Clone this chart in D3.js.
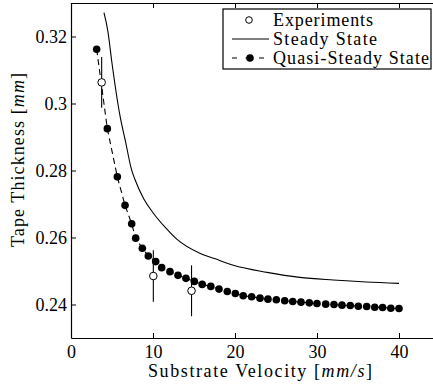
<!DOCTYPE html>
<html>
<head>
<meta charset="utf-8">
<script src="https://cdn.jsdelivr.net/npm/d3@7"></script>
<style>
  body { margin: 0; background: #fff; }
  svg { display: block; }
  text { font-family: "Liberation Serif", "Times New Roman", serif; fill: #000; }
</style>
</head>
<body>
<div id="chart"></div>
<script>
// Experiments (open circles with error bars)
var expX = [3.74, 10.04, 14.7];
var expY = [0.3063, 0.2485, 0.2441];
var expErr = [0.0076, 0.0077, 0.0076];

// Steady state (solid line)
var steadyX = [4.02, 4.5, 5.0, 6.0, 6.6, 7.4, 7.8, 8.9, 10.0, 11.5, 12.9, 15.7, 17.5, 19.8, 23.9, 27.9, 32.0, 36.0, 40.0];
var steadyY = [0.3271, 0.3215, 0.3120, 0.2960, 0.2892, 0.2801, 0.2773, 0.2714, 0.2674, 0.2630, 0.2595, 0.2553, 0.2537, 0.2517, 0.2496, 0.2481, 0.2473, 0.2467, 0.2463];

// Quasi-steady state (dashed line with filled dots)
var quasiX = [3.13, 4.43, 5.65, 6.59, 7.4, 7.89, 8.7, 9.43, 10.33, 11.06, 12.07, 13.05, 14.02, 15.04, 16.0, 17.05,
    18.05, 19.06, 20.04, 21.0, 22.03, 23.05, 24.02, 25.04, 26.06, 27.04, 28.05, 29.06, 30.0, 31.06, 32.07, 33.05,
    34.06, 35.04, 36.06, 37.04, 38.0, 39.0, 40.0];
var quasiY = [0.3162, 0.2925, 0.2781, 0.2696, 0.2641, 0.2598, 0.2568, 0.2545, 0.2528, 0.2510, 0.2498, 0.2487, 0.2478, 0.2469, 0.2460, 0.2454,
    0.2446, 0.2439, 0.2433, 0.2426, 0.2423, 0.2419, 0.2416, 0.2414, 0.2411, 0.2409, 0.2407, 0.2405, 0.2403, 0.2401, 0.2400, 0.2398,
    0.2397, 0.2395, 0.2394, 0.2392, 0.2391, 0.2389, 0.2388];

var xTicks = [0, 10, 20, 30, 40];
var yTicks = [0.24, 0.26, 0.28, 0.30, 0.32];
var legendLabels = ['Experiments', 'Steady State', 'Quasi-Steady State'];
var legendWidths = [100, 104, 156];

var margin = { top: 3, right: 0, bottom: 49, left: 71 };
var width = 369;
var height = 335;

var svg = d3.select('#chart')
    .append('svg')
    .attr('width', 433)
    .attr('height', 387);

var g = svg.append('g')
    .attr('transform', 'translate(' + margin.left + ',' + margin.top + ')');

var x = d3.scaleLinear().domain([0, 45]).range([0, width]);
var y = d3.scaleLinear().domain([0.23, 0.33]).range([height, 0]);

var fmt = function (d) { return String(+d.toFixed(2)); };

// Axes with inward ticks (box style)
g.append('g')
    .attr('transform', 'translate(0,' + height + ')')
    .call(d3.axisBottom(x).tickValues(xTicks).tickSizeInner(-5).tickSizeOuter(0).tickPadding(7).tickFormat(fmt));

g.append('g')
    .call(d3.axisTop(x).tickValues(xTicks).tickSizeInner(-5).tickSizeOuter(0).tickFormat(''));

g.append('g')
    .call(d3.axisLeft(y).tickValues(yTicks).tickSizeInner(-5).tickSizeOuter(0).tickPadding(4).tickFormat(fmt));

g.append('g')
    .attr('transform', 'translate(' + width + ',0)')
    .call(d3.axisRight(y).tickValues(yTicks).tickSizeInner(-5).tickSizeOuter(0).tickFormat(''));

g.selectAll('.domain').attr('stroke', '#000').attr('stroke-width', 1.2);
g.selectAll('.tick line').attr('stroke', '#000').attr('stroke-width', 1);
g.selectAll('.tick text')
    .attr('font-family', 'Liberation Serif')
    .style('font-size', '18px')
    .attr('fill', '#000');

// Axis titles
var xTitle = svg.append('text')
    .attr('x', 148)
    .attr('y', 377)
    .attr('textLength', 224)
    .attr('lengthAdjust', 'spacing')
    .style('font-size', '18px');
xTitle.append('tspan').text('Substrate Velocity [');
xTitle.append('tspan').style('font-style', 'italic').text('mm/s');
xTitle.append('tspan').text(']');

var yTitle = svg.append('text')
    .attr('transform', 'translate(24,247) rotate(-90)')
    .attr('textLength', 174)
    .attr('lengthAdjust', 'spacing')
    .style('font-size', '18px');
yTitle.append('tspan').text('Tape Thickness [');
yTitle.append('tspan').style('font-style', 'italic').text('mm');
yTitle.append('tspan').text(']');

// Steady state line
var steady = steadyX.map(function (d, i) { return { x: d, y: steadyY[i] }; });
var line = d3.line()
    .curve(d3.curveMonotoneX)
    .x(function (d) { return x(d.x); })
    .y(function (d) { return y(d.y); });

g.append('path')
    .datum(steady)
    .attr('d', line)
    .style('fill', 'none')
    .style('stroke', '#000')
    .style('stroke-width', 1.1);

// Quasi-steady dashed line + dots
var quasi = quasiX.map(function (d, i) { return { x: d, y: quasiY[i] }; });
g.append('path')
    .datum(quasi)
    .attr('d', d3.line().x(function (d) { return x(d.x); }).y(function (d) { return y(d.y); }))
    .style('fill', 'none')
    .style('stroke', '#000')
    .style('stroke-width', 1.1)
    .style('stroke-dasharray', '6,4');

g.selectAll('.qdot')
    .data(quasi)
    .enter()
    .append('circle')
    .attr('class', 'qdot')
    .attr('cx', function (d) { return x(d.x); })
    .attr('cy', function (d) { return y(d.y); })
    .attr('r', 3.8)
    .style('fill', '#000');

// Experiments with error bars
var exp = expX.map(function (d, i) { return { x: d, y: expY[i], e: expErr[i] }; });
g.selectAll('.ebar')
    .data(exp)
    .enter()
    .append('line')
    .attr('class', 'ebar')
    .attr('x1', function (d) { return x(d.x); })
    .attr('x2', function (d) { return x(d.x); })
    .attr('y1', function (d) { return y(d.y - d.e); })
    .attr('y2', function (d) { return y(d.y + d.e); })
    .style('stroke', '#000')
    .style('stroke-width', 1.1);

g.selectAll('.edot')
    .data(exp)
    .enter()
    .append('circle')
    .attr('class', 'edot')
    .attr('cx', function (d) { return x(d.x); })
    .attr('cy', function (d) { return y(d.y); })
    .attr('r', 3.8)
    .style('fill', '#fff')
    .style('stroke', '#000')
    .style('stroke-width', 1);

// Legend
var legend = svg.append('g').attr('transform', 'translate(223,9)');
legend.append('rect')
    .attr('width', 208)
    .attr('height', 60)
    .style('fill', '#fff')
    .style('stroke', '#000')
    .style('stroke-width', 1.2);

legendLabels.forEach(function (lab, i) {
    var cy = 11 + i * 19;
    if (i === 0) {
        legend.append('circle').attr('cx', 26).attr('cy', cy).attr('r', 3.3)
            .style('fill', '#fff').style('stroke', '#000');
    } else if (i === 1) {
        legend.append('line').attr('x1', 9).attr('x2', 46).attr('y1', cy).attr('y2', cy)
            .style('stroke', '#000').style('stroke-width', 1.1);
    } else {
        legend.append('line').attr('x1', 9).attr('x2', 46).attr('y1', cy).attr('y2', cy)
            .style('stroke', '#000').style('stroke-width', 1.1).style('stroke-dasharray', '5,8.5');
        legend.append('circle').attr('cx', 27).attr('cy', cy).attr('r', 3.8).style('fill', '#000');
    }
    legend.append('text')
        .attr('x', 50)
        .attr('y', cy + 6)
        .attr('textLength', legendWidths[i])
        .attr('lengthAdjust', 'spacing')
        .style('font-size', '18px')
        .text(lab);
});
</script>
</body>
</html>
